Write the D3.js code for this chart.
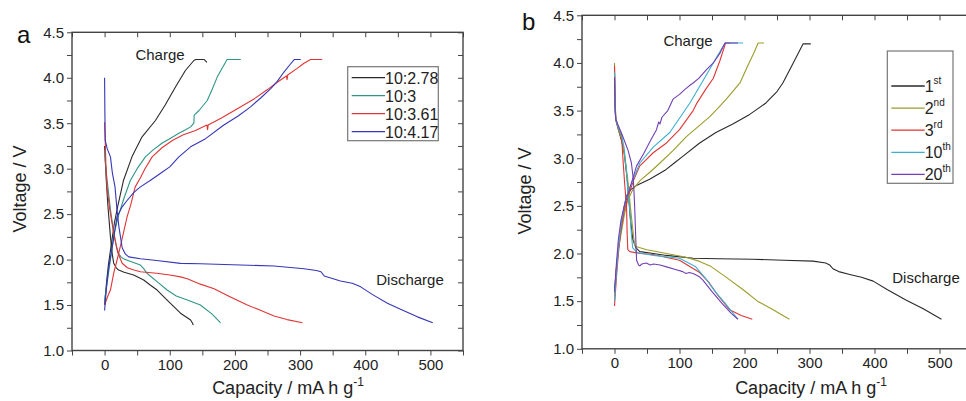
<!DOCTYPE html>
<html>
<head>
<meta charset="utf-8">
<script src="https://cdn.jsdelivr.net/npm/d3@7"></script>
<style>
  body { margin: 0; background: #fff; }
  svg { font-family: "Liberation Sans", Arial, sans-serif; display: block; }
  .tick text { font-size: 15px; fill: #222; }
  .tick line { stroke: #444; }
</style>
</head>
<body>
<svg id="chart" width="966" height="401"></svg>
<script>
// ---- data: [capacity (mA h g-1), voltage (V)] ----
const xTicks = [0, 100, 200, 300, 400, 500];
const yTicks = [1.0, 1.5, 2.0, 2.5, 3.0, 3.5, 4.0, 4.5];

// panel a: different mass ratios
const seriesA = ["10:2.78", "10:3", "10:3.61", "10:4.17"];
const a1Discharge = [[0,3.25],[1,3.1],[2.6,2.87],[5,2.6],[9,2.25],[12,2.05],[14,1.96],[18,1.91],[21.5,1.885],[30,1.86],[44.6,1.83],[60,1.775],[70,1.72],[80.6,1.665],[96,1.555],[116.5,1.41],[132,1.335],[135,1.3],[136,1.28]];
const a1Charge = [[0,1.5],[3,1.75],[6,1.95],[10,2.15],[15,2.4],[20,2.58],[29,2.87],[42,3.13],[57.5,3.35],[78,3.53],[93,3.7],[109,3.9],[124,4.08],[137,4.19],[140,4.2],[153,4.2],[157,4.17]];
const a2Discharge = [[0,3.2],[2,3.0],[5,2.8],[9,2.55],[14,2.3],[18,2.15],[21.5,2.07],[25,2.03],[29,2.01],[40,1.98],[55,1.94],[60,1.9],[65,1.85],[80,1.76],[96,1.665],[110,1.6],[127,1.555],[147,1.5],[165,1.4],[178,1.305]];
const a2Charge = [[0,1.55],[5,1.8],[10,2.05],[15,2.3],[22,2.5],[30,2.68],[39.5,2.87],[50,3.0],[62.6,3.13],[75,3.21],[88,3.28],[100,3.33],[114,3.39],[125,3.43],[132,3.46],[137,3.5],[137.5,3.59],[145,3.64],[157.5,3.75],[165,3.87],[173,4.01],[188,4.2],[209,4.2]];
const a3Discharge = [[0,3.51],[1,3.3],[2,3.05],[3.6,2.8],[8,2.55],[14,2.29],[20,2.08],[27,1.96],[35,1.91],[45,1.885],[55,1.866],[80,1.85],[100,1.83],[116.5,1.81],[127,1.79],[147,1.73],[168,1.68],[190,1.6],[219,1.5],[240,1.44],[260,1.38],[280,1.34],[303.7,1.305]];
const a3Charge = [[0,1.5],[5,1.6],[9,1.665],[14,1.85],[19,1.99],[26,2.2],[34.5,2.47],[40,2.6],[47,2.8],[55,2.9],[62,3.0],[73,3.13],[88,3.23],[104,3.31],[120,3.37],[139.5,3.42],[157,3.48],[158,3.43],[159,3.48],[180,3.56],[209,3.68],[230,3.77],[250,3.87],[265,3.95],[279,4.02],[280,3.98],[281,4.03],[295,4.1],[306,4.16],[316,4.2],[334,4.2]];
const a4Discharge = [[0,4.0],[0.5,3.6],[1,3.31],[4,3.22],[9,3.13],[12,2.95],[16,2.8],[19,2.55],[22,2.36],[27,2.13],[32,2.06],[37,2.03],[55,2.01],[80,1.99],[116.5,1.958],[147,1.955],[208.8,1.94],[260,1.93],[306,1.9],[325,1.88],[332,1.866],[337,1.82],[362,1.764],[380,1.74],[393,1.7],[410,1.62],[434,1.52],[455,1.45],[480,1.37],[503.6,1.305]];
const a4Charge = [[0,1.44],[3,1.7],[6,1.9],[12,2.15],[19,2.47],[27,2.58],[34.5,2.65],[45,2.74],[55,2.8],[70,2.87],[86,2.95],[100,3.02],[114,3.13],[132,3.24],[155,3.33],[183,3.48],[205,3.58],[224,3.68],[240,3.78],[255,3.88],[265,3.96],[275,4.06],[284,4.14],[291,4.2],[301,4.2]];

// panel b: cycles
const seriesB = [["1", "st"], ["2", "nd"], ["3", "rd"], ["10", "th"], ["20", "th"]];
const b1Discharge = [[0,3.9],[1,3.5],[2,3.4],[6,3.3],[11,3.18],[15,3.05],[20,2.75],[24,2.4],[28,2.15],[33,2.06],[39,2.02],[60,2.0],[80,1.98],[121,1.95],[160,1.945],[213,1.94],[260,1.93],[305.5,1.92],[325,1.9],[331,1.88],[336,1.84],[345,1.81],[362,1.78],[380,1.75],[398,1.71],[420,1.62],[449,1.51],[475,1.42],[503,1.31]];
const b1Charge = [[0,1.6],[3,1.85],[6,2.05],[10,2.25],[14,2.45],[18,2.6],[25,2.67],[33,2.71],[54,2.78],[79,2.88],[92,2.95],[105,3.02],[131,3.16],[156,3.27],[182,3.36],[208,3.46],[233,3.58],[250,3.7],[259,3.79],[275,4.0],[290,4.2],[302,4.2]];
const b2Discharge = [[0,4.0],[1,3.6],[2,3.41],[6,3.3],[11,3.2],[15,3.05],[20,2.8],[25,2.45],[29,2.2],[31,2.09],[34,2.07],[50,2.04],[80,2.0],[110,1.96],[130,1.92],[147,1.87],[170,1.76],[198,1.62],[220,1.5],[244,1.41],[269,1.31]];
const b2Charge = [[0,1.55],[3,1.85],[6,2.05],[10,2.2],[15,2.4],[20,2.55],[28,2.67],[40,2.77],[54,2.85],[70,2.95],[90,3.08],[111,3.23],[130,3.34],[147,3.44],[160,3.53],[172,3.62],[183,3.71],[193,3.79],[205,3.97],[214,4.1],[221,4.21],[230,4.21]];
const b3Discharge = [[0,3.97],[1,3.6],[2,3.41],[6,3.32],[11,3.23],[13,2.99],[16,2.7],[18.5,2.5],[19.5,2.2],[20.5,2.04],[23.5,2.02],[40,2.0],[59,1.99],[100,1.93],[131,1.8],[145,1.7],[157,1.58],[177,1.41],[195,1.35],[212,1.31]];
const b3Charge = [[0,1.45],[3,1.75],[6,2.0],[10,2.25],[15,2.45],[22,2.62],[30,2.78],[39,2.92],[60,3.06],[80,3.16],[100,3.3],[121,3.5],[126,3.57],[140,3.72],[152,3.84],[162,4.02],[171,4.21],[178,4.21]];
const b4Discharge = [[0,3.9],[1,3.55],[2,3.41],[6,3.32],[11,3.24],[15,3.1],[18,2.9],[21,2.6],[23,2.5],[26,2.2],[28,2.06],[35,2.01],[60,1.98],[100,1.95],[125,1.86],[140,1.74],[155,1.6],[170,1.48],[190,1.31]];
const b4Charge = [[0,1.5],[3,1.8],[6,2.05],[10,2.3],[15,2.5],[22,2.67],[30,2.8],[39,2.95],[60,3.12],[85,3.27],[100,3.42],[116,3.58],[135,3.8],[152,4.0],[170,4.21],[198,4.21]];
const b5Discharge = [[0,3.85],[1,3.5],[2,3.41],[6,3.34],[11,3.26],[16,3.17],[21,3.08],[26,2.95],[29,2.78],[31,2.5],[33,2.1],[34,1.93],[37,1.88],[39,1.87],[42,1.89],[49,1.9],[55,1.88],[60,1.89],[70,1.88],[80,1.86],[95,1.83],[105,1.81],[110,1.79],[115,1.8],[121,1.79],[130,1.76],[136,1.72],[150,1.6],[165,1.48],[180,1.37],[190,1.31]];
const b5Charge = [[0,1.6],[3,1.9],[6,2.15],[10,2.35],[15,2.5],[22,2.65],[34,2.92],[45,3.05],[55,3.18],[64.6,3.3],[68,3.38],[70,3.36],[73,3.43],[82,3.5],[90,3.62],[100,3.67],[108,3.72],[115,3.76],[121,3.79],[130,3.84],[141.5,3.93],[152,4.0],[162,4.1],[170,4.21],[190,4.21]];

const colorsA = ["#2a2a2a", "#2f9686", "#e03535", "#3636b8"];
const colorsB = ["#2a2a2a", "#9c9c2a", "#e03535", "#3cb0d2", "#7040b4"];

const svg = d3.select("#chart");

function drawPanel(cfg) {
  const x = d3.scaleLinear().domain([-50, 550]).range([cfg.left, cfg.right]);
  const y = d3.scaleLinear().domain([1.0, 4.5]).range([cfg.bottom, cfg.top]);
  const g = svg.append("g");

  const xMinor = d3.range(-50, 551, 50);
  const yMinor = d3.range(1.0, 4.51, 0.25).map((v) => +v.toFixed(2));
  const xLab = (d) => (xTicks.includes(d) ? d : "");
  const yLab = (d) => (yTicks.some((t) => Math.abs(t - d) < 1e-6) ? d3.format(".1f")(d) : "");

  // axes: out on bottom/left, in on top/right
  g.append("g")
    .attr("transform", `translate(0,${cfg.bottom})`)
    .call(d3.axisBottom(x).tickValues(xMinor).tickFormat(xLab).tickSize(5).tickPadding(4))
    .call((a) => a.select(".domain").remove());
  g.append("g")
    .attr("transform", `translate(${cfg.left},0)`)
    .call(d3.axisLeft(y).tickValues(yMinor).tickFormat(yLab).tickSize(5).tickPadding(3))
    .call((a) => a.select(".domain").remove());
  g.append("g")
    .attr("transform", `translate(0,${cfg.top})`)
    .call(d3.axisTop(x).tickValues(xMinor).tickFormat("").tickSize(-5))
    .call((a) => a.select(".domain").remove());
  g.append("g")
    .attr("transform", `translate(${cfg.right},0)`)
    .call(d3.axisRight(y).tickValues(yMinor).tickFormat("").tickSize(-5))
    .call((a) => a.select(".domain").remove());

  g.append("rect")
    .attr("x", cfg.left).attr("y", cfg.top)
    .attr("width", cfg.right - cfg.left).attr("height", cfg.bottom - cfg.top)
    .attr("fill", "none").attr("stroke", "#444").attr("stroke-width", 1.4);

  const line = d3.line().x((d) => x(d[0])).y((d) => y(d[1]));
  cfg.curves.forEach((c) => {
    g.append("path")
      .attr("d", line(c.data))
      .attr("fill", "none")
      .attr("stroke", c.color)
      .attr("stroke-width", 1.1)
      .attr("stroke-linejoin", "round");
  });

  // legend
  const lg = cfg.legend;
  g.append("rect")
    .attr("x", lg.x).attr("y", lg.y).attr("width", lg.w).attr("height", lg.h)
    .attr("fill", "#fff").attr("stroke", "#777").attr("stroke-width", 1.2);
  lg.items.forEach((it, i) => {
    const ry = lg.rowY + i * lg.step;
    g.append("line")
      .attr("x1", lg.x + 4).attr("x2", lg.x + 4 + lg.lineLen)
      .attr("y1", ry).attr("y2", ry)
      .attr("stroke", it.color).attr("stroke-width", 1.3);
    const t = g.append("text")
      .attr("x", lg.x + 4 + lg.lineLen).attr("y", ry + 6)
      .attr("font-size", 16).attr("fill", "#222");
    if (Array.isArray(it.label)) {
      t.append("tspan").text(it.label[0]);
      t.append("tspan").attr("dy", -8).attr("font-size", 10).text(it.label[1]);
    } else {
      t.text(it.label);
    }
  });

  // texts
  g.append("text").attr("x", cfg.letter[0]).attr("y", cfg.letter[1])
    .attr("font-size", 24).attr("fill", "#111").text(cfg.letterText);
  g.append("text").attr("x", cfg.charge[0]).attr("y", cfg.charge[1])
    .attr("text-anchor", "middle").attr("font-size", 15).attr("fill", "#222").text("Charge");
  g.append("text").attr("x", cfg.discharge[0]).attr("y", cfg.discharge[1])
    .attr("text-anchor", "middle").attr("font-size", 15).attr("fill", "#222").text("Discharge");

  const xt = g.append("text")
    .attr("x", cfg.xTitle[0]).attr("y", cfg.xTitle[1])
    .attr("text-anchor", "middle").attr("font-size", 18).attr("fill", "#222");
  xt.append("tspan").text("Capacity / mA h g");
  xt.append("tspan").attr("dy", -8).attr("font-size", 12).text("-1");

  g.append("text")
    .attr("transform", `translate(${cfg.yTitle[0]},${cfg.yTitle[1]}) rotate(-90)`)
    .attr("text-anchor", "middle").attr("font-size", 18).attr("fill", "#222")
    .text("Voltage / V");
}

drawPanel({
  left: 72, right: 463, top: 32.3, bottom: 350.5,
  curves: [
    { data: a1Discharge, color: colorsA[0] }, { data: a1Charge, color: colorsA[0] },
    { data: a2Discharge, color: colorsA[1] }, { data: a2Charge, color: colorsA[1] },
    { data: a3Discharge, color: colorsA[2] }, { data: a3Charge, color: colorsA[2] },
    { data: a4Discharge, color: colorsA[3] }, { data: a4Charge, color: colorsA[3] }
  ],
  legend: {
    x: 347.7, y: 66.7, w: 90.6, h: 74, rowY: 77.7, step: 18, lineLen: 33.3,
    items: seriesA.map((s, i) => ({ label: s, color: colorsA[i] }))
  },
  letter: [17, 43], letterText: "a",
  charge: [160, 60], discharge: [410, 285],
  xTitle: [288, 394], yTitle: [26, 189]
});

drawPanel({
  left: 582, right: 972, top: 15.3, bottom: 348.8,
  curves: [
    { data: b1Discharge, color: colorsB[0] }, { data: b1Charge, color: colorsB[0] },
    { data: b2Discharge, color: colorsB[1] }, { data: b2Charge, color: colorsB[1] },
    { data: b3Discharge, color: colorsB[2] }, { data: b3Charge, color: colorsB[2] },
    { data: b4Discharge, color: colorsB[3] }, { data: b4Charge, color: colorsB[3] },
    { data: b5Discharge, color: colorsB[4] }, { data: b5Charge, color: colorsB[4] }
  ],
  legend: {
    x: 887.3, y: 51, w: 65.7, h: 132.3, rowY: 86, step: 22.1, lineLen: 33.4,
    items: seriesB.map((s, i) => ({ label: s, color: colorsB[i] }))
  },
  letter: [522, 30], letterText: "b",
  charge: [688, 46], discharge: [926, 283],
  xTitle: [811, 394], yTitle: [531, 191]
});
</script>
</body>
</html>
